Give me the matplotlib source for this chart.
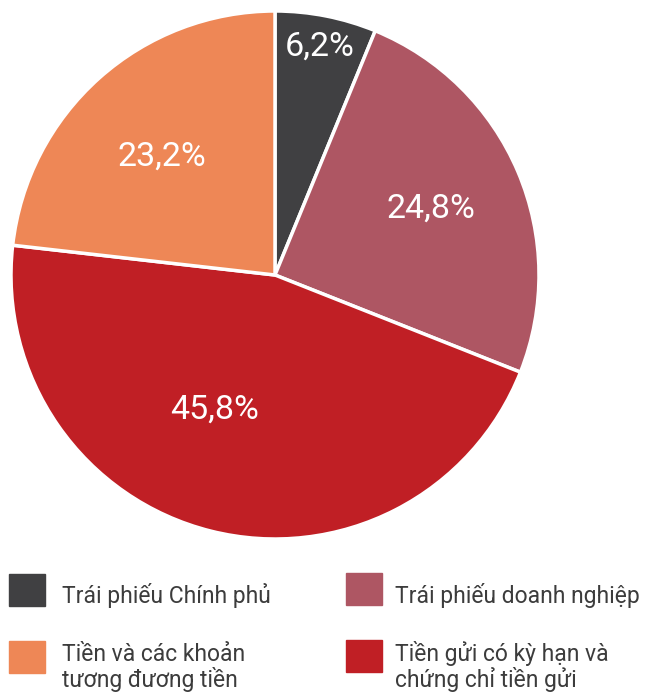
import matplotlib.pyplot as plt
import numpy as np
from matplotlib.patches import Rectangle

# slice data, clockwise from 12 o'clock
labels = ['Trái phiếu Chính phủ', 'Trái phiếu doanh nghiệp',
          'Tiền gửi có kỳ hạn và\nchứng chỉ tiền gửi', 'Tiền và các khoản\ntương đương tiền']
values = [6.2, 24.8, 45.8, 23.2]
pct_text = ['6,2%', '24,8%', '45,8%', '23,2%']
colors = ['#404042', '#ae5663', '#c01f25', '#ee8756']

# label placement tweaks (radius fraction, angle shift in deg)
lab_r = [0.88, 0.64, 0.56, 0.62]
lab_shift = [0, 0, -10, 2]

plt.rcParams['font.family'] = ['Roboto', 'DejaVu Sans']

W, H = 654, 692
fig = plt.figure(figsize=(W / 100, H / 100), dpi=100)

# pie axes: centre (275,275) px, radius 264 px
cx, cy, R = 275, 275, 264
ax = fig.add_axes([(cx - R) / W, (H - cy - R) / H, 2 * R / W, 2 * R / H])
wedges, _ = ax.pie(values, colors=colors, startangle=90, counterclock=False,
                   radius=1, wedgeprops=dict(edgecolor='white', linewidth=2.5))
ax.set_xlim(-1, 1)
ax.set_ylim(-1, 1)
ax.axis('off')

for w, t, r, s in zip(wedges, pct_text, lab_r, lab_shift):
    ang = np.deg2rad((w.theta1 + w.theta2) / 2 + s)
    ax.text(r * np.cos(ang), r * np.sin(ang), t, ha='center', va='center',
            color='white', fontsize=24.5)

# legend drawn in pixel coords
lax = fig.add_axes([0, 0, 1, 1])
lax.set_xlim(0, W)
lax.set_ylim(H, 0)
lax.axis('off')
leg_order = [0, 1, 3, 2]
box_x = [9, 346, 9, 346]
box_y = [574, 573, 641, 640]
text_x = [62, 395, 62, 395]
base_y = [603, 603, 661, 661]
for k, i in enumerate(leg_order):
    lax.add_patch(Rectangle((box_x[k], box_y[k]), 36, 32, color=colors[i]))
    for j, line in enumerate(labels[i].split('\n')):
        lax.text(text_x[k], base_y[k] + 26 * j, line, ha='left', va='baseline',
                 fontsize=16.5, color='#3c3c3c')

fig.savefig('out.png', dpi=100)
